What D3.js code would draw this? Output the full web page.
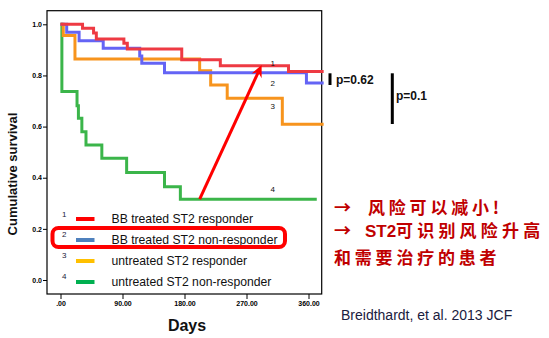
<!DOCTYPE html>
<html><head><meta charset="utf-8">
<script src="https://cdn.jsdelivr.net/npm/d3@7/dist/d3.min.js"></script>
<style>body{margin:0;background:#fff}svg{display:block}</style>
</head><body><svg id="c" width="549" height="338"></svg>
<script>
// ---- data ----
const xTicks = [0, 90, 180, 270, 360];
const xTickLabels = [".00", "90.00", "180.00", "270.00", "360.00"];
const yTicks = [0, 0.2, 0.4, 0.6, 0.8, 1.0];
const yTickLabels = ["0.0", "0.2", "0.4", "0.6", "0.8", "1.0"];

const redDays   = [0, 32, 48, 52, 92, 97, 176, 232, 331, 382];
const redSurv   = [1, 0.985, 0.966, 0.943, 0.926, 0.903, 0.861, 0.838, 0.815, 0.815];
const blueDays  = [0, 9, 27, 62, 115, 118, 151, 357, 382];
const blueSurv  = [1, 0.969, 0.936, 0.906, 0.876, 0.848, 0.811, 0.770, 0.770];
const orangeDays= [0, 4, 21, 202, 218, 242, 322, 382];
const orangeSurv= [1, 0.956, 0.864, 0.818, 0.763, 0.711, 0.609, 0.609];
const greenDays = [0, 2, 24, 26, 31, 37, 60, 96, 151, 174, 372];
const greenSurv = [1, 0.737, 0.681, 0.633, 0.580, 0.528, 0.476, 0.420, 0.365, 0.316, 0.316];

const curveNumbers = ["1", "2", "3", "4"];
const curveNumberDay = [305, 305, 305, 305];
const curveNumberSurv = [0.847, 0.769, 0.680, 0.355];

const legendNumbers = ["1", "2", "3", "4"];
const legendLabels = ["BB treated ST2 responder", "BB treated ST2 non-responder", "untreated ST2 responder", "untreated ST2 non-responder"];
const legendColors = ["#ff0000", "#4f81bd", "#ffc000", "#00b050"];

const arrowFrom = [202, 0.316];
const arrowTo = [292, 0.841];

const pLabels = ["p=0.62", "p=0.1"];
const noteLines = ["风险可以减小!", "可识别风险升高", "和需要治疗的患者"];
const citation = "Breidthardt, et al. 2013 JCF";

// ---- layout ----
const svg = d3.select("#c");
const frame = {l: 47, t: 10.7, r: 321.7, b: 294};
const x = d3.scaleLinear().domain([0, 360]).range([60.5, 308.5]);
const y = d3.scaleLinear().domain([0, 1]).range([280, 24.3]);

svg.append("clipPath").attr("id", "clp").append("rect")
  .attr("x", frame.l).attr("y", frame.t).attr("width", frame.r - frame.l + 4).attr("height", frame.b - frame.t);

// frame
svg.append("rect").attr("x", frame.l).attr("y", frame.t)
  .attr("width", frame.r - frame.l).attr("height", frame.b - frame.t)
  .attr("fill", "none").attr("stroke", "#000").attr("stroke-width", 1.2);

// y ticks
const yAxis = d3.axisLeft(y).tickValues(yTicks).tickSize(4).tickFormat((d, i) => yTickLabels[i]);
const gy = svg.append("g").attr("transform", `translate(${frame.l},0)`).call(yAxis);
gy.select(".domain").remove();
gy.selectAll("text").attr("font-family", "Liberation Sans, Arial, sans-serif").attr("font-size", 7).attr("font-weight", "bold").attr("x", -5);

// x ticks
const xAxis = d3.axisBottom(x).tickValues(xTicks).tickSize(5).tickFormat((d, i) => xTickLabels[i]);
const gx = svg.append("g").attr("transform", `translate(0,${frame.b})`).call(xAxis);
gx.select(".domain").remove();
gx.selectAll("text").attr("font-family", "Liberation Sans, Arial, sans-serif").attr("font-size", 7).attr("font-weight", "bold").attr("y", 7);

// axis titles
svg.append("text").attr("transform", "translate(17,174) rotate(-90)")
  .attr("text-anchor", "middle").attr("font-family", "Liberation Sans, Arial, sans-serif")
  .attr("font-size", 13).attr("font-weight", "bold").attr("fill", "#111").text("Cumulative survival");
svg.append("text").attr("x", 187).attr("y", 331).attr("text-anchor", "middle")
  .attr("font-family", "Liberation Sans, Arial, sans-serif").attr("font-size", 16).attr("font-weight", "bold").attr("fill", "#111").text("Days");

// curves
const line = d3.line().x(d => x(d[0])).y(d => y(d[1])).curve(d3.curveStepAfter);
const series = [
  {days: greenDays, surv: greenSurv, color: "#3bb54a"},
  {days: orangeDays, surv: orangeSurv, color: "#f7941d"},
  {days: blueDays, surv: blueSurv, color: "#6464f5"},
  {days: redDays, surv: redSurv, color: "#ee3a43"}
];
const gc = svg.append("g").attr("clip-path", "url(#clp)");
series.forEach(s => {
  gc.append("path").datum(d3.zip(s.days, s.surv)).attr("d", line)
    .attr("fill", "none").attr("stroke", s.color).attr("stroke-width", 3);
});

// curve numbers
curveNumbers.forEach((n, i) => {
  svg.append("text").attr("x", x(curveNumberDay[i])).attr("y", y(curveNumberSurv[i]) + 3)
    .attr("font-family", "Liberation Sans, Arial, sans-serif").attr("font-size", 8).attr("fill", "#111").text(n);
});

// red arrow
const ax1 = x(arrowFrom[0]), ay1 = y(arrowFrom[1]), ax2 = x(arrowTo[0]), ay2 = y(arrowTo[1]);
const len = Math.hypot(ax2 - ax1, ay2 - ay1), ux = (ax2 - ax1) / len, uy = (ay2 - ay1) / len;
const hl = 12, hw = 5.5;
svg.append("line").attr("x1", ax1).attr("y1", ay1).attr("x2", ax2 - ux * 8).attr("y2", ay2 - uy * 8)
  .attr("stroke", "#ff0000").attr("stroke-width", 3);
const bx = ax2 - ux * hl, by = ay2 - uy * hl;
svg.append("path").attr("d", `M${ax2},${ay2}L${bx - uy * hw},${by + ux * hw}L${ax2 - ux * 8},${ay2 - uy * 8}L${bx + uy * hw},${by - ux * hw}Z`)
  .attr("fill", "#ff0000");

// legend
legendLabels.forEach((lab, i) => {
  const cy = 219 + i * 21;
  svg.append("text").attr("x", 62).attr("y", cy - 2 - (i === 0 ? 0 : 1))
    .attr("font-family", "Liberation Sans, Arial, sans-serif").attr("font-size", 8).attr("fill", "#1a1a3a").text(legendNumbers[i]);
  svg.append("line").attr("x1", 76).attr("x2", 94.5).attr("y1", cy).attr("y2", cy)
    .attr("stroke", legendColors[i]).attr("stroke-width", 4);
  svg.append("text").attr("x", 111.5).attr("y", cy + 4.3)
    .attr("font-family", "Liberation Sans, Arial, sans-serif").attr("font-size", 12.2).attr("fill", "#111").text(lab);
});
svg.append("rect").attr("x", 52.5).attr("y", 228).attr("width", 232.5).attr("height", 19).attr("rx", 6)
  .attr("fill", "none").attr("stroke", "#ff0000").attr("stroke-width", 4);

// p values
svg.append("rect").attr("x", 328.5).attr("y", 73.3).attr("width", 3).attr("height", 11.7).attr("fill", "#000");
svg.append("text").attr("x", 336).attr("y", 83.5).attr("font-family", "Liberation Sans, Arial, sans-serif")
  .attr("font-size", 12).attr("font-weight", "bold").attr("fill", "#111").text(pLabels[0]);
svg.append("rect").attr("x", 390.8).attr("y", 73.3).attr("width", 3).attr("height", 50.7).attr("fill", "#000");
svg.append("text").attr("x", 396).attr("y", 100.3).attr("font-family", "Liberation Sans, Arial, sans-serif")
  .attr("font-size", 12).attr("font-weight", "bold").attr("fill", "#111").text(pLabels[1]);

// notes
const red = "#c00000";
const cjk = "Noto Sans CJK SC, sans-serif";
svg.append("text").attr("x", 334).attr("y", 214).attr("font-family", cjk).attr("font-size", 17).attr("font-weight", "bold").attr("fill", red).text("→");
svg.append("text").attr("x", 368).attr("y", 214).attr("font-family", cjk).attr("font-size", 17).attr("letter-spacing", 3.8).attr("fill", red).attr("font-weight", "bold").text(noteLines[0]);
svg.append("text").attr("x", 334).attr("y", 237).attr("font-family", cjk).attr("font-size", 17).attr("font-weight", "bold").attr("fill", red).text("→");
svg.append("text").attr("x", 365).attr("y", 237).attr("font-family", "Liberation Sans, Arial, sans-serif").attr("font-size", 17).attr("font-weight", "bold").attr("fill", red).text("ST2");
svg.append("text").attr("x", 396).attr("y", 237).attr("font-family", cjk).attr("font-size", 17).attr("letter-spacing", 4.2).attr("fill", red).attr("font-weight", "bold").text(noteLines[1]);
svg.append("text").attr("x", 334).attr("y", 264).attr("font-family", cjk).attr("font-size", 17).attr("letter-spacing", 3.8).attr("fill", red).attr("font-weight", "bold").text(noteLines[2]);

svg.append("text").attr("x", 341).attr("y", 320).attr("font-family", "Liberation Sans, Arial, sans-serif")
  .attr("font-size", 14).attr("fill", "#1a2040").text(citation);
</script></body></html>
